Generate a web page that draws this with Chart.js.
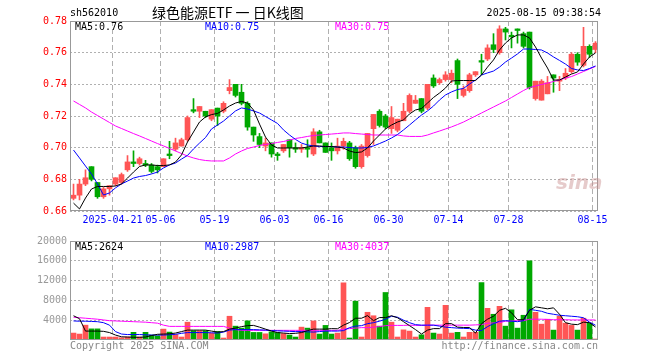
<!DOCTYPE html>
<html><head><meta charset="utf-8">
<script src="https://cdn.jsdelivr.net/npm/chart.js@4/dist/chart.umd.min.js"></script>
<style>
html,body{margin:0;padding:0;background:#fff;width:660px;height:360px;overflow:hidden;}
#wrap{position:relative;width:660px;height:360px;}
canvas{position:absolute;left:0;}
.t{position:absolute;font-family:"DejaVu Sans Mono",monospace;font-size:10px;line-height:12px;white-space:pre;color:#000;}
</style></head><body>
<div id="wrap">
<canvas id="k" width="660" height="232" style="top:0;width:660px;height:232px"></canvas>
<canvas id="v" width="660" height="128" style="top:232px;width:660px;height:128px"></canvas>
<div class="t" style="left:70px;top:7px">sh562010</div>
<div class="t" style="left:152px;top:3px;font-family:'Noto Sans CJK SC',sans-serif;font-size:14px;line-height:18px">绿色能源ETF 一 日K线图</div>
<div class="t" style="right:59px;top:7px">2025-08-15 09:38:54</div>
<div class="t" id="l5" style="left:75px;top:21px;color:#000"></div>
<div class="t" id="l10" style="left:205px;top:21px;color:#0000ff"></div>
<div class="t" id="l30" style="left:335px;top:21px;color:#ff00ff"></div>
<div class="t" id="v5" style="left:75px;top:241px;color:#000"></div>
<div class="t" id="v10" style="left:205px;top:241px;color:#0000ff"></div>
<div class="t" id="v30" style="left:335px;top:241px;color:#ff00ff"></div>
<div class="t" style="left:556px;top:170px;font-family:'DejaVu Sans',sans-serif;font-size:20px;line-height:24px;font-style:italic;font-weight:bold;color:rgba(200,140,140,0.45)">sina</div>
<div class="t" style="left:70px;top:340px;color:#888">Copyright 2025 SINA.COM</div>
<div class="t" style="right:62px;top:340px;color:#888">http://finance.sina.com.cn</div>
</div>
<script>
const dates = [
'2025-04-10','2025-04-11','2025-04-14','2025-04-15','2025-04-16','2025-04-17','2025-04-18','2025-04-21','2025-04-22','2025-04-23','2025-04-24','2025-04-25','2025-04-28','2025-04-29','2025-04-30',
'2025-05-06','2025-05-07','2025-05-08','2025-05-09','2025-05-12','2025-05-13','2025-05-14','2025-05-15','2025-05-16','2025-05-19','2025-05-20','2025-05-21','2025-05-22','2025-05-23','2025-05-26','2025-05-27','2025-05-28','2025-05-29','2025-05-30',
'2025-06-03','2025-06-04','2025-06-05','2025-06-06','2025-06-09','2025-06-10','2025-06-11','2025-06-12','2025-06-13','2025-06-16','2025-06-17','2025-06-18','2025-06-19','2025-06-20','2025-06-23','2025-06-24','2025-06-25','2025-06-26','2025-06-27','2025-06-30',
'2025-07-01','2025-07-02','2025-07-03','2025-07-04','2025-07-07','2025-07-08','2025-07-09','2025-07-10','2025-07-11','2025-07-14','2025-07-15','2025-07-16','2025-07-17','2025-07-18','2025-07-21','2025-07-22','2025-07-23','2025-07-24','2025-07-25','2025-07-28','2025-07-29','2025-07-30','2025-07-31',
'2025-08-01','2025-08-04','2025-08-05','2025-08-06','2025-08-07','2025-08-08','2025-08-11','2025-08-12','2025-08-13','2025-08-14','2025-08-15'];

const tickDates  = ['2025-04-21','2025-05-06','2025-05-19','2025-06-03','2025-06-16','2025-06-30','2025-07-14','2025-07-28','2025-08-15'];
const tickLabels = ['2025-04-21','05-06','05-19','06-03','06-16','06-30','07-14','07-28','08-15'];
const priceTicks = [0.66,0.68,0.70,0.72,0.74,0.76,0.78];
const volumeTicks = [4000,8000,12000,16000,20000];

const opens = [0.668,0.670,0.677,0.688,0.678,0.669,0.674,0.677,0.678,0.686,0.691,0.690,0.690,0.689,0.688,0.688,0.696,0.699,0.701,0.705,
0.724,0.723,0.723,0.718,0.725,0.723,0.736,0.740,0.735,0.728,0.713,0.707,0.701,0.703,0.696,0.698,0.705,0.700,0.699,0.700,
0.696,0.710,0.703,0.700,0.698,0.701,0.703,0.700,0.688,0.695,0.712,0.723,0.720,0.712,0.711,0.717,0.723,0.728,0.731,0.725,
0.744,0.741,0.743,0.743,0.755,0.733,0.736,0.746,0.755,0.756,0.765,0.760,0.775,0.771,0.775,0.772,0.773,0.731,0.730,0.734,
0.746,0.742,0.744,0.748,0.759,0.752,0.764,0.762];
const highs = [0.677,0.680,0.686,0.688,0.678,0.675,0.676,0.681,0.684,0.695,0.698,0.694,0.692,0.690,0.689,0.693,0.704,0.706,0.706,0.720,
0.731,0.726,0.723,0.724,0.725,0.729,0.743,0.740,0.740,0.729,0.713,0.709,0.706,0.703,0.697,0.702,0.705,0.703,0.702,0.705,
0.712,0.711,0.703,0.703,0.706,0.706,0.704,0.701,0.702,0.709,0.721,0.724,0.721,0.726,0.718,0.728,0.734,0.733,0.731,0.740,
0.746,0.744,0.748,0.749,0.756,0.739,0.747,0.748,0.759,0.765,0.772,0.777,0.776,0.773,0.775,0.773,0.773,0.742,0.743,0.745,
0.746,0.745,0.750,0.760,0.760,0.776,0.765,0.767];
const lows = [0.667,0.667,0.676,0.679,0.668,0.668,0.670,0.676,0.677,0.685,0.688,0.689,0.688,0.684,0.684,0.688,0.693,0.698,0.701,0.704,
0.722,0.719,0.719,0.717,0.714,0.722,0.734,0.732,0.727,0.711,0.704,0.700,0.698,0.694,0.692,0.697,0.694,0.697,0.697,0.694,
0.695,0.703,0.697,0.692,0.696,0.699,0.692,0.687,0.687,0.694,0.702,0.713,0.712,0.709,0.710,0.717,0.722,0.728,0.722,0.724,
0.738,0.740,0.742,0.741,0.731,0.732,0.735,0.745,0.746,0.755,0.760,0.759,0.768,0.763,0.766,0.763,0.737,0.730,0.730,0.734,
0.735,0.736,0.743,0.747,0.752,0.751,0.757,0.760];
const closes = [0.670,0.677,0.681,0.680,0.669,0.674,0.676,0.681,0.683,0.691,0.690,0.693,0.689,0.685,0.686,0.693,0.695,0.703,0.705,0.719,
0.723,0.726,0.720,0.724,0.720,0.728,0.738,0.733,0.728,0.713,0.708,0.702,0.703,0.696,0.695,0.702,0.700,0.699,0.700,0.699,
0.710,0.703,0.697,0.698,0.701,0.704,0.693,0.688,0.701,0.709,0.721,0.714,0.713,0.719,0.718,0.723,0.733,0.730,0.723,0.740,
0.739,0.743,0.746,0.747,0.740,0.737,0.746,0.748,0.754,0.763,0.762,0.775,0.773,0.770,0.774,0.764,0.738,0.742,0.742,0.741,
0.744,0.743,0.747,0.759,0.754,0.764,0.759,0.766];

const ma5 = [0.6650,0.6613,0.6682,0.6739,0.6755,0.6755,0.6755,0.6758,0.6771,0.6808,0.6846,0.6881,0.6891,0.6891,0.6887,0.6887,0.6891,0.6909,0.6954,0.7036,
0.7099,0.7162,0.7194,0.7209,0.7216,0.7238,0.7263,0.7282,0.7292,0.7282,0.7238,0.7149,0.7067,0.7017,0.6998,0.6998,0.6998,0.6998,0.6998,0.7004,
0.7011,0.7011,0.7007,0.7007,0.7004,0.6998,0.6979,0.6969,0.6973,0.6998,0.7042,0.7080,0.7118,0.7143,0.7162,0.7175,0.7213,0.7238,0.7247,0.7282,
0.7317,0.7345,0.7377,0.7421,0.7424,0.7424,0.7424,0.7424,0.7459,0.7509,0.7554,0.7617,0.7661,0.7693,0.7712,0.7712,0.7693,0.7636,0.7566,0.7503,
0.7427,0.7427,0.7446,0.7465,0.7478,0.7528,0.7573,0.7598];
const ma10 = [0.6985,0.6935,0.6884,0.6834,0.6771,0.6701,0.6714,0.6746,0.6771,0.6789,0.6808,0.6818,0.6824,0.6834,0.6846,0.6872,0.6891,0.6903,0.6928,0.6951,
0.6992,0.7029,0.7064,0.7118,0.7143,0.7168,0.7200,0.7232,0.7251,0.7244,0.7232,0.7219,0.7197,0.7175,0.7153,0.7112,0.7080,0.7052,0.7029,0.7017,
0.7011,0.7007,0.7007,0.7007,0.7004,0.7004,0.7001,0.6998,0.6998,0.7001,0.7011,0.7026,0.7042,0.7061,0.7083,0.7112,0.7143,0.7175,0.7206,0.7232,
0.7263,0.7301,0.7333,0.7352,0.7367,0.7374,0.7402,0.7427,0.7459,0.7472,0.7484,0.7509,0.7541,0.7566,0.7592,0.7623,0.7623,0.7620,0.7617,0.7598,
0.7573,0.7551,0.7528,0.7500,0.7491,0.7487,0.7500,0.7516];
const ma30 = [0.7295,0.7273,0.7251,0.7225,0.7203,0.7181,0.7159,0.7137,0.7121,0.7105,0.7089,0.7074,0.7058,0.7042,0.7026,0.7011,0.6995,0.6979,0.6963,0.6947,
0.6935,0.6925,0.6919,0.6916,0.6916,0.6916,0.6935,0.6960,0.6979,0.6995,0.7004,0.7014,0.7020,0.7026,0.7033,0.7039,0.7048,0.7058,0.7064,0.7071,
0.7077,0.7080,0.7083,0.7086,0.7089,0.7093,0.7093,0.7089,0.7086,0.7083,0.7080,0.7080,0.7080,0.7080,0.7080,0.7074,0.7071,0.7071,0.7071,0.7080,
0.7093,0.7105,0.7118,0.7131,0.7146,0.7162,0.7181,0.7200,0.7219,0.7238,0.7257,0.7276,0.7295,0.7317,0.7339,0.7361,0.7380,0.7389,0.7399,0.7408,
0.7418,0.7427,0.7440,0.7449,0.7465,0.7481,0.7497,0.7513];

const volumes = [1400,1200,3000,2250,2250,600,600,600,450,600,1550,600,1550,1000,850,2200,1600,1100,600,3600,
1870,1870,1870,1400,1730,400,4800,2800,2400,3870,1530,1530,1250,1650,1500,1300,1000,600,2600,2400,
3850,1200,2950,1200,1400,11550,400,7850,600,5600,4900,2800,9600,3600,600,2050,1800,600,1050,6600,
1400,1200,7000,1400,1550,600,1550,1550,11600,6400,5200,6800,2800,6100,2400,5000,16000,5600,3200,4200,
2000,4800,3400,2950,2000,4400,3400,200];
const volMa5 = [4900,4300,1800,1800,1800,1750,1500,1000,650,600,550,550,600,900,1150,1200,1250,1400,1700,2000,
2000,2000,2000,1800,1600,1700,2200,2400,2700,2900,2950,2600,2200,1800,1500,1400,1300,1350,1500,1900,
2200,2200,2200,2300,2270,3000,3530,4400,4400,4930,3900,4530,4530,4900,4500,3700,2900,2100,1200,2000,
2300,2300,3300,3300,2600,2530,2530,1400,3300,4200,4800,6000,6400,5500,4100,4100,6000,6700,6500,6300,
6500,5200,3500,3200,3100,3600,3500,2624];
const volMa10 = [3850,3800,3800,3750,3700,3500,3000,1700,1200,1100,1100,1100,1050,1000,1000,1000,1050,1150,1350,1500,
1500,1500,1500,1450,1400,1600,2000,2100,2100,2100,2100,2050,2000,1900,1850,1800,1750,1700,1700,1650,
1600,1700,1800,1800,1800,1900,2500,2800,2900,3300,3500,3800,4200,4800,4600,4000,3500,3100,3000,3000,
3000,2800,2600,2500,2400,2350,2300,2000,1900,2700,3300,3800,3900,3800,3700,3900,6200,6000,5800,5400,
5200,5000,4900,4800,4700,4500,3600,2987];
const volMa30 = [4600,4500,4400,4300,4200,4050,3900,3850,3800,3750,3700,3650,3600,3500,3400,3000,2750,2750,2750,2750,
2750,2750,2750,2750,2750,2750,2400,2100,1950,1950,1950,1950,1950,1950,1950,1950,1950,1950,1950,1950,
1950,1950,1950,1950,1950,2200,2300,2400,2500,2500,2600,2700,2900,2950,2950,2950,3000,2950,2950,3000,
3000,3000,3000,3000,3000,3000,3000,3050,3100,3400,3450,3500,3800,3850,3900,3900,4200,4200,4200,4150,
4100,4100,4100,4050,4050,4050,4050,4037];

const RED = '#ff5555', GREEN = '#00a800', GRID = '#b0b0b0', FRAME = '#999999';
const FONT = {family: 'DejaVu Sans Mono', size: 10};
const n = dates.length;
const colors = closes.map((c, i) => c >= opens[i] ? RED : GREEN);
const tickIdx = tickDates.map(d => dates.indexOf(d));
const xMin = -0.5 - 0.5 / 6, xMax = n - 0.5 - 0.5 / 6;

const last = a => a[a.length - 1];
document.getElementById('l5').textContent = 'MA5:' + last(ma5).toFixed(2);
document.getElementById('l10').textContent = 'MA10:' + last(ma10).toFixed(2);
document.getElementById('l30').textContent = 'MA30:' + last(ma30).toFixed(2);
document.getElementById('v5').textContent = 'MA5:' + last(volMa5);
document.getElementById('v10').textContent = 'MA10:' + last(volMa10);
document.getElementById('v30').textContent = 'MA30:' + last(volMa30);

const frame = {
  id: 'frame',
  afterDraw(c) {
    const a = c.chartArea, ctx = c.ctx;
    ctx.save();
    ctx.strokeStyle = FRAME; ctx.lineWidth = 1; ctx.setLineDash([]);
    ctx.strokeRect(Math.round(a.left) + 0.5, Math.round(a.top) + 0.5, Math.round(a.right - a.left) - 1, Math.round(a.bottom - a.top) - 1);
    ctx.restore();
  }
};
const pts = arr => arr.map((v, i) => ({x: i, y: v}));
const line = (arr, color) => ({type: 'line', data: pts(arr), borderColor: color, borderWidth: 1, pointRadius: 0, tension: 0, order: 0});

const xScale = (showLabels) => ({
  type: 'linear', min: xMin, max: xMax, offset: false, bounds: 'ticks',
  afterBuildTicks: s => { s.ticks = tickIdx.map(i => ({value: i - 0.5})); },
  ticks: {display: showLabels, autoSkip: false, maxRotation: 0, padding: 3, color: '#0000ff', font: FONT,
          callback: (v, k) => tickLabels[k]},
  grid: {color: GRID, drawTicks: false, lineWidth: 1, offset: false},
  border: {display: false, dash: [5, 3]},
  afterFit: s => { s.height = showLabels ? 21 : 0; }
});

Chart.defaults.font.family = 'DejaVu Sans Mono';
Chart.defaults.font.size = 10;

new Chart(document.getElementById('k'), {
  data: {datasets: [
    line(ma5, '#000000'), line(ma10, '#0000ff'), line(ma30, '#ff00ff'),
    {type: 'bar', data: lows.map((l, i) => ({x: i, y: [l, highs[i]]})), backgroundColor: colors, barThickness: 1, grouped: false, order: 2},
    {type: 'bar', data: opens.map((o, i) => ({x: i, y: [o, closes[i]]})), backgroundColor: colors, barThickness: 5, minBarLength: 1, grouped: false, order: 1}
  ]},
  options: {
    responsive: false, animation: false, devicePixelRatio: 1,
    layout: {padding: {left: 0, right: 62, top: 21, bottom: 0}},
    plugins: {legend: {display: false}, tooltip: {enabled: false}},
    scales: {
      x: xScale(true),
      y: {min: priceTicks[0], max: last(priceTicks),
          afterBuildTicks: s => { s.ticks = priceTicks.map(v => ({value: v})); },
          ticks: {color: '#ff0000', padding: 3, font: FONT, callback: v => v.toFixed(2)},
          grid: {color: GRID, drawTicks: false}, border: {display: false, dash: [2, 2]},
          afterFit: s => { s.width = 70; }}
    }
  },
  plugins: [frame]
});

new Chart(document.getElementById('v'), {
  data: {datasets: [
    line(volMa5, '#000000'), line(volMa10, '#0000ff'), line(volMa30, '#ff00ff'),
    {type: 'bar', data: pts(volumes), backgroundColor: colors, barThickness: 5, grouped: false, order: 1}
  ]},
  options: {
    responsive: false, animation: false, devicePixelRatio: 1,
    layout: {padding: {left: 0, right: 62, top: 8, bottom: 20}},
    plugins: {legend: {display: false}, tooltip: {enabled: false}},
    scales: {
      x: xScale(false),
      y: {min: 0, max: last(volumeTicks),
          afterBuildTicks: s => { s.ticks = volumeTicks.map(v => ({value: v})); },
          ticks: {color: '#999999', padding: 3, font: FONT, callback: v => String(v)},
          grid: {color: GRID, drawTicks: false}, border: {display: false, dash: [2, 2]},
          afterFit: s => { s.width = 70; }}
    }
  },
  plugins: [frame]
});
</script>
</body></html>
